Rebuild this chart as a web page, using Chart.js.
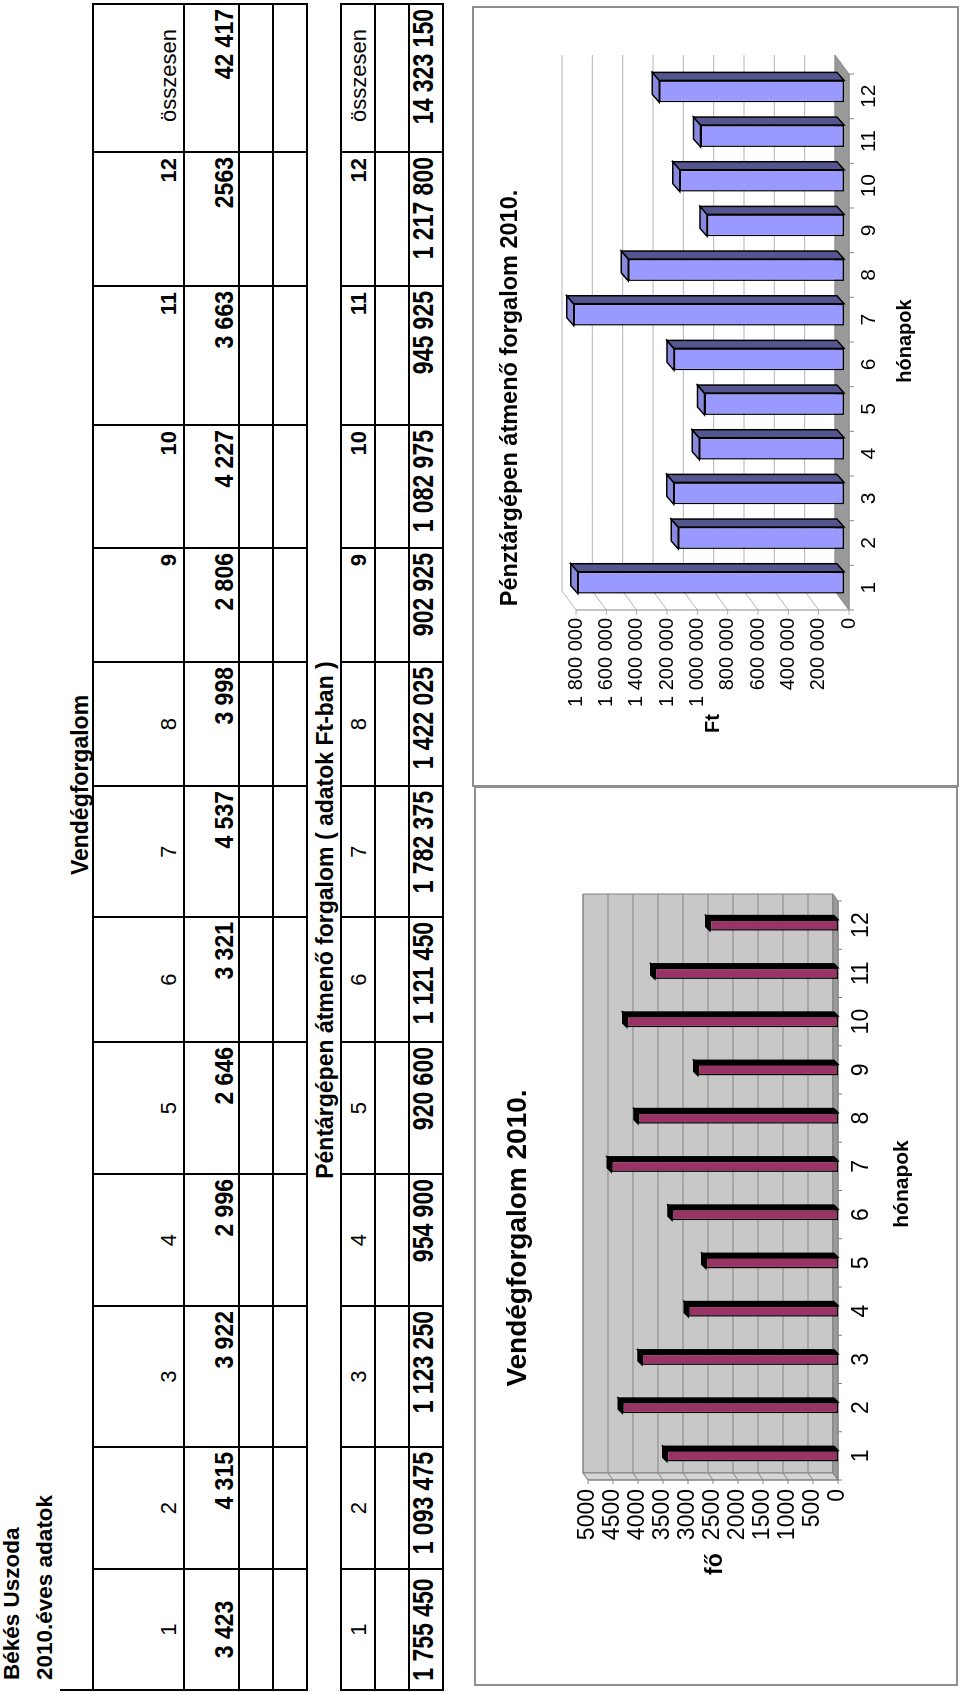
<!DOCTYPE html>
<html>
<head>
<meta charset="utf-8">
<script src="https://cdn.jsdelivr.net/npm/chart.js@4.4.1/dist/chart.umd.min.js"></script>
<style>
  html, body { margin: 0; padding: 0; background: #fff; }
  body { width: 960px; height: 1695px; overflow: hidden; position: relative;
         font-family: "Liberation Sans", Arial, sans-serif; color: #000; }
  /* the sheet is landscape, printed rotated a quarter turn */
  #page { position: absolute; left: 0; top: 0; width: 1695px; height: 960px;
          transform-origin: 0 0; transform: translateY(1695px) rotate(-90deg); }
  .txt { position: absolute; line-height: 1; white-space: nowrap; }
  .rule { position: absolute; background: #000; }
  .frame { position: absolute; border: 2px solid #8f8f8f; box-sizing: border-box; }
  canvas { position: absolute; }
</style>
</head>
<body>
<div id="page">
  <div class="frame" style="left:9px; top:474px; width:900px; height:484px;"></div>
  <div class="frame" style="left:908px; top:472px; width:781px; height:487px;"></div>
  <canvas id="chart-vendeg" width="897" height="481" style="left:10px; top:475px;"></canvas>
  <canvas id="chart-penz" width="777" height="484" style="left:910px; top:473px;"></canvas>
</div>
<script>
// ═══════════════════════════════════════════════════════
//  ADATOK
// ═══════════════════════════════════════════════════════
const honapok = ['1', '2', '3', '4', '5', '6', '7', '8', '9', '10', '11', '12'];
const vendegek = [3423, 4315, 3922, 2996, 2646, 3321, 4537, 3998, 2806, 4227, 3663, 2563];
const bevetel = [1755450, 1093475, 1123250, 954900, 920600, 1121450, 1782375, 1422025, 902925, 1082975, 945925, 1217800];
const vendegCellak = ['3 423', '4 315', '3 922', '2 996', '2 646', '3 321', '4 537', '3 998', '2 806', '4 227', '3 663', '2563'];
const bevetelCellak = ['1 755 450', '1 093 475', '1 123 250', '954 900', '920 600', '1 121 450', '1 782 375', '1 422 025', '902 925', '1 082 975', '945 925', '1 217 800'];
const vendegOsszes = '42 417';
const bevetelOsszes = '14 323 150';
const vendegTicks = ['0', '500', '1000', '1500', '2000', '2500', '3000', '3500', '4000', '4500', '5000'];
const bevetelTicks = ['0', '200 000', '400 000', '600 000', '800 000', '1 000 000', '1 200 000', '1 400 000', '1 600 000', '1 800 000'];

const page = document.getElementById('page');
const FONT = '"Liberation Sans", Arial, sans-serif';

function txt(s, o) {
  const d = document.createElement('div');
  d.className = 'txt';
  d.textContent = s;
  d.style.fontSize = o.size + 'px';
  d.style.fontWeight = o.bold ? 'bold' : 'normal';
  d.style.top = (o.base - 0.8465 * o.size) + 'px';
  if (o.align === 'center') {
    d.style.left = (o.x - 300) + 'px'; d.style.width = '600px'; d.style.textAlign = 'center';
  } else if (o.align === 'right') {
    d.style.left = (o.x - 300) + 'px'; d.style.width = '300px'; d.style.textAlign = 'right';
  } else {
    d.style.left = o.x + 'px';
  }
  if (o.sy) { d.style.transform = 'scaleY(' + o.sy + ')'; d.style.transformOrigin = '50% 84.65%'; }
  page.appendChild(d);
}

function rule(x, y, w, h) {
  const d = document.createElement('div');
  d.className = 'rule';
  Object.assign(d.style, { left: x + 'px', top: y + 'px', width: w + 'px', height: h + 'px' });
  page.appendChild(d);
}

// ═══════════════════════════════════════════════════════
//  TÁBLÁZATOK
// ═══════════════════════════════════════════════════════
const oszlopok = [5, 126, 248, 389, 521, 653, 778, 909, 1033, 1147, 1270, 1409, 1543, 1691];

function tablazat(sorok, fejBase, ertekBase, cellak, osszes, sy, fejTeteje) {
  const top = sorok[0], bottom = sorok[sorok.length - 1];
  oszlopok.forEach((x, i) => rule(x - 1, i === 0 ? fejTeteje : top - 1, 2, bottom - (i === 0 ? fejTeteje : top) + 1));
  sorok.forEach(y => rule(oszlopok[0] - 1, y - 1, oszlopok[13] - oszlopok[0] + 2, 2));
  for (let i = 0; i < 13; i++) {
    const l = oszlopok[i], r = oszlopok[i + 1];
    if (i < 8) txt(honapok[i], { x: (l + r) / 2, base: fejBase, size: 22, align: 'center' });
    else if (i < 12) txt(honapok[i], { x: r - 6, base: fejBase, size: 22, bold: true, align: 'right' });
    else txt('összesen', { x: r - 25, base: fejBase, size: 22, align: 'right' });
    const v = i < 12 ? cellak[i] : osszes;
    if (i === 0) txt(v, { x: (l + r) / 2, base: ertekBase, size: 23, bold: true, align: 'center', sy });
    else txt(v, { x: r - 5, base: ertekBase, size: 23, bold: true, align: 'right', sy });
  }
}

txt('Békés Uszoda', { x: 15, base: 20, size: 22.5, bold: true });
txt('2010.éves adatok', { x: 15, base: 53, size: 22.5, bold: true });
txt('Vendégforgalom', { x: 910, base: 88, size: 23, bold: true, align: 'center' });
tablazat([93, 184, 239, 273, 307], 177, 233, vendegCellak, vendegOsszes, 1.1, 60);

txt('Péntárgépen átmenő forgalom ( adatok Ft-ban )', { x: 775, base: 333, size: 23, bold: true, align: 'center' });
tablazat([341, 375, 409, 443], 367, 433, bevetelCellak, bevetelOsszes, 1.25, 341);

// ═══════════════════════════════════════════════════════
//  3D FAL, PADLÓ, OSZLOPOLDALAK
// ═══════════════════════════════════════════════════════
const plane3d = {
  id: 'plane3d',
  beforeDatasetsDraw(chart, args, o) {
    const ctx = chart.ctx, a = chart.chartArea;
    const xs = chart.scales.x, ys = chart.scales.y;
    const [fx, fy] = o.front, [bx, by] = o.back;
    const L = a.left + fx, R = a.right + fx, T = a.top + fy, B = a.bottom + fy;
    const poly = (pts, fill, stroke, lw) => {
      ctx.beginPath();
      pts.forEach(([x, y], i) => i ? ctx.lineTo(x, y) : ctx.moveTo(x, y));
      ctx.closePath();
      if (fill) { ctx.fillStyle = fill; ctx.fill(); }
      if (stroke) { ctx.strokeStyle = stroke; ctx.lineWidth = lw || 1; ctx.stroke(); }
    };
    ctx.save();
    poly([[L + bx, T + by], [R + bx, T + by], [R + bx, B + by], [L + bx, B + by]], o.wall, o.wallEdge);
    poly([[L, T], [L + bx, T + by], [L + bx, B + by], [L, B]], o.side, o.wallEdge);
    ctx.strokeStyle = o.grid; ctx.lineWidth = 1;
    ys.ticks.forEach(t => {
      const py = ys.getPixelForValue(t.value) + fy;
      ctx.beginPath();
      ctx.moveTo(L - o.tick, py); ctx.lineTo(L, py);
      ctx.lineTo(L + bx, py + by); ctx.lineTo(R + bx, py + by);
      ctx.stroke();
    });
    poly([[L, B], [L + bx, B + by], [R + bx, B + by], [R, B]], o.floor, o.edge);
    // front edges + category ticks
    ctx.strokeStyle = o.edge; ctx.lineWidth = 1;
    ctx.beginPath(); ctx.moveTo(L, T); ctx.lineTo(L, B); ctx.lineTo(R, B); ctx.stroke();
    const band = xs.getPixelForValue(1) - xs.getPixelForValue(0);
    for (let i = 0; i <= chart.data.labels.length; i++) {
      const px = xs.getPixelForValue(0) - band / 2 + i * band + fx;
      ctx.beginPath(); ctx.moveTo(px, B); ctx.lineTo(px, B + o.tick); ctx.stroke();
    }
    // bar top and side faces
    const [dx, dy] = o.bar;
    chart.getDatasetMeta(0).data.forEach(el => {
      const { x, y, base, width } = el.getProps(['x', 'y', 'base', 'width'], true);
      const l = x - width / 2, r = x + width / 2;
      poly([[l, y], [r, y], [r + dx, y + dy], [l + dx, y + dy]], o.barTop, '#000', 1.5);
      poly([[r, y], [r + dx, y + dy], [r + dx, base + dy], [r, base]], o.barSide, '#000', 1.5);
    });
    ctx.restore();
  }
};

Chart.defaults.font.family = FONT;
Chart.defaults.color = '#000';

// ═══════════════════════════════════════════════════════
//  VENDÉGFORGALOM 2010.
// ═══════════════════════════════════════════════════════
new Chart(document.getElementById('chart-vendeg'), {
  type: 'bar',
  data: {
    labels: honapok,
    datasets: [{ data: vendegek, backgroundColor: '#993366', borderColor: '#000', borderWidth: 1.5,
      borderSkipped: false, barPercentage: 0.23, categoryPercentage: 1 }]
  },
  options: {
    responsive: false, animation: false, devicePixelRatio: 1,
    layout: { padding: { left: 115, right: 113, top: 113, bottom: 78 } },
    plugins: {
      legend: { display: false }, title: { display: false }, tooltip: { enabled: false },
      plane3d: { front: [0, 0], back: [7, -5], bar: [4, -4], tick: 4,
        wall: '#c8c8c8', wallEdge: '#808080', side: '#d6d6d6', floor: '#9c9c9c',
        grid: '#858585', edge: '#808080', barTop: '#000', barSide: '#000' }
    },
    scales: {
      x: { grid: { display: false, drawTicks: false }, border: { display: false },
           ticks: { font: { size: 23 }, padding: 10, maxRotation: 0, autoSkip: false },
           afterFit: s => { s.height = 40; } },
      y: { min: 0, max: 5000, grid: { display: false, drawTicks: false }, border: { display: false },
           ticks: { stepSize: 500, font: { size: 23 }, padding: 9, autoSkip: false, callback: (v, i) => vendegTicks[i] },
           afterFit: s => { s.width = 90; } }
    }
  },
  plugins: [plane3d]
});

// ═══════════════════════════════════════════════════════
//  PÉNZTÁRGÉPEN ÁTMENŐ FORGALOM 2010.
// ═══════════════════════════════════════════════════════
new Chart(document.getElementById('chart-penz'), {
  type: 'bar',
  data: {
    labels: honapok,
    datasets: [{ data: bevetel, backgroundColor: '#9999ff', borderColor: '#000', borderWidth: 1.5,
      borderSkipped: false, barPercentage: 0.49, categoryPercentage: 1 }]
  },
  options: {
    responsive: false, animation: false, devicePixelRatio: 1,
    layout: { padding: { left: 60, right: 61, top: 98, bottom: 73 } },
    plugins: {
      legend: { display: false }, title: { display: false }, tooltip: { enabled: false },
      plane3d: { front: [-5, 5], back: [19, -14], bar: [8, -7], tick: 5,
        wall: '#ffffff', wallEdge: null, side: '#ffffff', floor: '#9a9a9a',
        grid: '#b4b4b4', edge: '#8a8a8a', barTop: '#8888dd', barSide: '#55558f' }
    },
    scales: {
      x: { grid: { display: false, drawTicks: false }, border: { display: false },
           ticks: { font: { size: 21 }, padding: 13, labelOffset: -5, maxRotation: 0, autoSkip: false },
           afterFit: s => { s.height = 40; } },
      y: { min: 0, max: 1800000, grid: { display: false, drawTicks: false }, border: { display: false },
           ticks: { stepSize: 200000, font: { size: 20 }, padding: 13, labelOffset: 5, autoSkip: false, callback: (v, i) => bevetelTicks[i] },
           afterFit: s => { s.width = 120; } }
    }
  },
  plugins: [plane3d]
});

// chart titles and axis names
txt('Vendégforgalom 2010.', { x: 457, base: 527, size: 28, bold: true, align: 'center' });
txt('fő', { x: 120, base: 722, size: 23, bold: true });
txt('hónapok', { x: 511, base: 908, size: 21, bold: true, align: 'center' });
txt('Pénztárgépen átmenő forgalom 2010.', { x: 1297, base: 518, size: 23.5, bold: true, align: 'center' });
txt('Ft', { x: 962, base: 719, size: 20, bold: true });
txt('hónapok', { x: 1354, base: 911, size: 20, bold: true, align: 'center' });
</script>
</body>
</html>
